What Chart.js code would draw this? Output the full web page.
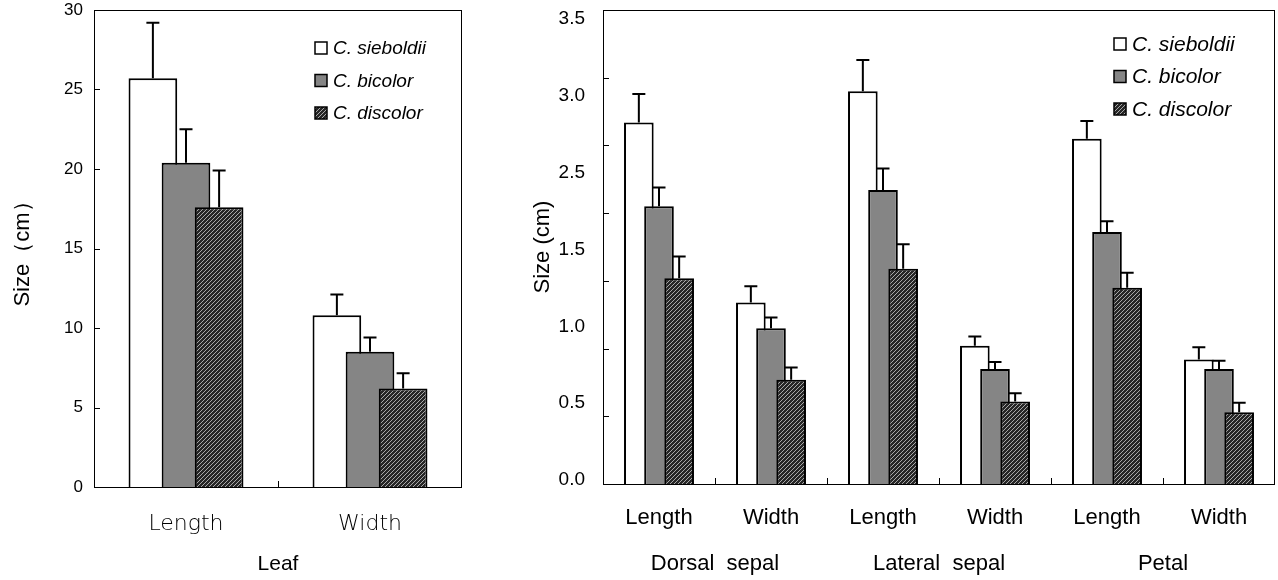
<!DOCTYPE html>
<html>
<head>
<meta charset="utf-8">
<script src="https://cdn.jsdelivr.net/npm/chart.js@4"></script>
<style>
  body { margin: 0; background: #fff; }
  .panel { position: absolute; top: 0; height: 580px; }
  #leafBox { left: 0; width: 480px; }
  #flowerBox { left: 510px; width: 768px; }
</style>
</head>
<body>
<div class="panel" id="leafBox"><canvas id="leaf"></canvas></div>
<div class="panel" id="flowerBox"><canvas id="flower"></canvas></div>
<script>
const speciesNames = ['C. sieboldii', 'C. bicolor', 'C. discolor'];

// left panel: leaf size (cm)
const leafLabels = ['Length', 'Width'];
const leafSieboldii = [25.7, 10.8];
const leafBicolor = [20.4, 8.5];
const leafDiscolor = [17.6, 6.2];
const leafSieboldiiSD = [3.5, 1.3];
const leafBicolorSD = [2.1, 0.9];
const leafDiscolorSD = [2.3, 0.95];

// right panel: flower parts (cm)
const flowerLabels = ['Length', 'Width', 'Length', 'Width', 'Length', 'Width'];
const flowerGroups = ['Dorsal  sepal', 'Lateral  sepal', 'Petal'];
const flowerSieboldii = [2.67, 1.34, 2.90, 1.02, 2.55, 0.92];
const flowerBicolor = [2.05, 1.15, 2.17, 0.85, 1.86, 0.85];
const flowerDiscolor = [1.52, 0.77, 1.59, 0.61, 1.45, 0.53];
const flowerSieboldiiSD = [0.21, 0.12, 0.23, 0.07, 0.13, 0.09];
const flowerBicolorSD = [0.14, 0.08, 0.16, 0.05, 0.08, 0.06];
const flowerDiscolorSD = [0.16, 0.09, 0.18, 0.06, 0.11, 0.07];
// the printed axis skips 2.0, labels are spread evenly
const flowerTickLabels = ['0.0', '0.5', '1.0', '1.5', '2.5', '3.0', '3.5'];

const SANS = "'Liberation Sans', Arial, sans-serif";

function hatchPattern() {
    const c = document.createElement('canvas');
    c.width = 4; c.height = 4;
    const g = c.getContext('2d');
    g.fillStyle = '#262626';
    g.fillRect(0, 0, 4, 4);
    g.strokeStyle = '#a8a8a8';
    g.lineWidth = 1;
    g.beginPath();
    for (let k = -4; k <= 4; k += 4) {
        g.moveTo(k, 4);
        g.lineTo(k + 4, 0);
    }
    g.stroke();
    return g.createPattern(c, 'repeat');
}

const fills = ['#ffffff', '#858585', hatchPattern()];

function series(i, data, errors) {
    return {
        label: speciesNames[i],
        data: data,
        errors: errors,
        backgroundColor: fills[i],
        borderColor: '#000',
        borderWidth: 2,
        borderSkipped: 'start',
        categoryPercentage: 0.54,
        barPercentage: 1.47
    };
}

function drawErrorBars(chart, meta) {
    const ds = chart.data.datasets[meta.index];
    const y = chart.scales[meta.yAxisID];
    const ctx = chart.ctx;
    ctx.save();
    ctx.strokeStyle = '#000';
    ctx.lineWidth = 2;
    meta.data.forEach((bar, i) => {
        const top = y.getPixelForValue(ds.data[i] + ds.errors[i]);
        ctx.beginPath();
        ctx.moveTo(bar.x, bar.y);
        ctx.lineTo(bar.x, top);
        ctx.moveTo(bar.x - 6.5, top);
        ctx.lineTo(bar.x + 6.5, top);
        ctx.stroke();
    });
    ctx.restore();
}

// no extra room for half tick labels, the layout padding decides
function noOverhang(s) {
    s.paddingTop = 0;
    s.paddingBottom = 0;
    s.paddingLeft = 0;
    s.paddingRight = 0;
}

// draws bars left to right (so later series overlap earlier), error bars,
// the frame, inward tick marks and the legend inside the plot
const panelPlugin = {
    id: 'panel',
    beforeDatasetsDraw(chart) {
        chart.getSortedVisibleDatasetMetas().forEach(meta => {
            if (chart._drawDataset) chart._drawDataset(meta);
            else meta.controller.draw();
            drawErrorBars(chart, meta);
        });
        return false;
    },
    afterDraw(chart) {
        const o = chart.options.plugins.panel;
        const ctx = chart.ctx;
        const a = chart.chartArea;
        const x = chart.scales.x, y = chart.scales.y;
        ctx.save();
        ctx.strokeStyle = '#000';
        ctx.lineWidth = 1;
        ctx.strokeRect(a.left + 0.5, a.top + 0.5, a.right - a.left - 1, a.bottom - a.top);
        ctx.beginPath();
        for (let v = o.yStep; v < o.yMax - 1e-9; v += o.yStep) {
            const py = Math.round(y.getPixelForValue(v)) + 0.5;
            ctx.moveTo(a.left, py);
            ctx.lineTo(a.left + 6, py);
        }
        const n = chart.data.labels.length;
        for (let i = 1; i < n; i++) {
            const px = Math.round((x.getPixelForValue(i - 1) + x.getPixelForValue(i)) / 2) + 0.5;
            ctx.moveTo(px, a.bottom);
            ctx.lineTo(px, a.bottom - 6);
        }
        ctx.stroke();

        // legend
        ctx.font = 'italic ' + o.legendSize + 'px ' + SANS;
        ctx.textBaseline = 'middle';
        chart.data.datasets.forEach((ds, i) => {
            const bx = a.left + o.legendX;
            const cy = a.top + o.legendY + i * o.legendGap;
            ctx.fillStyle = ds.backgroundColor;
            ctx.fillRect(bx, cy - 6, 12, 12);
            ctx.lineWidth = 1.5;
            ctx.strokeRect(bx, cy - 6, 12, 12);
            ctx.fillStyle = '#000';
            ctx.fillText(ds.label, bx + 18, cy + 1);
        });
        ctx.restore();
    }
};

new Chart(document.getElementById('leaf'), {
    type: 'bar',
    data: {
        labels: leafLabels,
        datasets: [
            series(0, leafSieboldii, leafSieboldiiSD),
            series(1, leafBicolor, leafBicolorSD),
            series(2, leafDiscolor, leafDiscolorSD)
        ]
    },
    options: {
        responsive: true,
        maintainAspectRatio: false,
        animation: false,
        layout: { padding: { top: 10, right: 18, left: 0, bottom: 0 } },
        plugins: {
            legend: { display: false },
            tooltip: { enabled: false },
            panel: { yStep: 5, yMax: 30, legendX: 221, legendY: 38, legendGap: 32.5, legendSize: 19 }
        },
        scales: {
            x: {
                grid: { display: false, drawTicks: false },
                border: { display: false },
                ticks: { color: '#000', padding: 24, font: { family: "'DejaVu Sans', sans-serif", size: 22, weight: 300 } },
                title: { display: true, text: 'Leaf', color: '#000', font: { family: SANS, size: 21 }, padding: { top: 0, bottom: 3 } },
                afterFit: s => { noOverhang(s); s.height = 93; }
            },
            y: {
                min: 0,
                max: 30,
                grid: { display: false, drawTicks: false },
                border: { display: false },
                ticks: { stepSize: 5, color: '#000', padding: 11, font: { family: SANS, size: 17 } },
                title: { display: true, text: 'Size（cm）', color: '#000', font: { family: SANS, size: 22 }, padding: { top: 10, bottom: 0 } },
                afterFit: s => { noOverhang(s); s.width = 94; }
            }
        }
    },
    plugins: [panelPlugin]
});

new Chart(document.getElementById('flower'), {
    type: 'bar',
    data: {
        labels: flowerLabels,
        datasets: [
            series(0, flowerSieboldii, flowerSieboldiiSD),
            series(1, flowerBicolor, flowerBicolorSD),
            series(2, flowerDiscolor, flowerDiscolorSD)
        ]
    },
    options: {
        responsive: true,
        maintainAspectRatio: false,
        animation: false,
        layout: { padding: { top: 10, right: 3, left: 0, bottom: 0 } },
        plugins: {
            legend: { display: false },
            tooltip: { enabled: false },
            panel: { yStep: 0.5, yMax: 3.5, legendX: 511, legendY: 34, legendGap: 32.5, legendSize: 21 }
        },
        scales: {
            x: {
                grid: { display: false, drawTicks: false },
                border: { display: false },
                ticks: { color: '#000', padding: 21, font: { family: SANS, size: 22 } },
                afterFit: s => { noOverhang(s); s.height = 48; }
            },
            x2: {
                type: 'category',
                position: 'bottom',
                labels: flowerGroups,
                offset: true,
                weight: 1,
                grid: { display: false, drawTicks: false },
                border: { display: false },
                ticks: { color: '#000', padding: 19, font: { family: SANS, size: 22 } },
                afterFit: s => { noOverhang(s); s.height = 48; }
            },
            y: {
                display: false,
                min: 0,
                max: 3.5
            },
            yLabels: {
                type: 'linear',
                position: 'left',
                weight: 1,
                min: -0.052,
                max: 6.117,
                grid: { display: false, drawTicks: false },
                border: { display: false },
                afterBuildTicks: s => { s.ticks = flowerTickLabels.map((t, i) => ({ value: i })); },
                ticks: {
                    color: '#000',
                    padding: 18,
                    font: { family: SANS, size: 19 },
                    callback: v => flowerTickLabels[v]
                },
                title: { display: true, text: 'Size (cm)', color: '#000', font: { family: SANS, size: 22 }, padding: { top: 20, bottom: 0 } },
                afterFit: s => { noOverhang(s); s.width = 93; }
            }
        }
    },
    plugins: [panelPlugin]
});
</script>
</body>
</html>
